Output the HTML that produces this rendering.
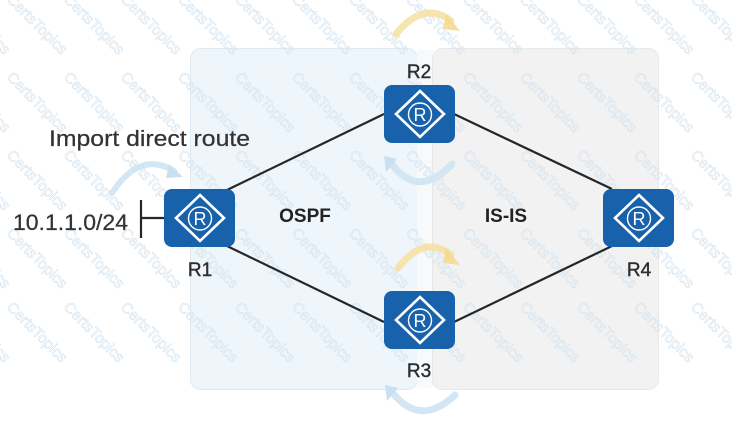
<!DOCTYPE html>
<html><head><meta charset="utf-8"><style>
html,body{margin:0;padding:0;background:#fff;width:732px;height:425px;overflow:hidden;}
svg{display:block;overflow:hidden;}
text{font-family:"Liberation Sans",sans-serif;}
</style></head><body>
<svg width="732" height="425" viewBox="0 0 732 425" xmlns="http://www.w3.org/2000/svg">
<defs>
<clipPath id="cp"><rect x="0" y="0" width="732" height="425"/></clipPath>
<g id="router">
<rect x="0" y="0" width="71" height="58" rx="8" fill="#1862ab"/>
<polygon points="36,6 60,29 36,52 12,29" fill="none" stroke="#fff" stroke-width="2.6"/>
<circle cx="36" cy="29.5" r="11.5" fill="none" stroke="#fff" stroke-width="1.4"/>
<text x="36" y="36" font-size="18" fill="#fff" text-anchor="middle">R</text>
</g>
<g id="wrow" font-size="15" fill="none" stroke="#d6e4ef" stroke-width="0.6">
<text transform="matrix(0.7071 0.7071 -0.7071 0.7071 -51 8)">CertsTopics</text>
<text transform="matrix(0.7071 0.7071 -0.7071 0.7071 6 8)">CertsTopics</text>
<text transform="matrix(0.7071 0.7071 -0.7071 0.7071 63 8)">CertsTopics</text>
<text transform="matrix(0.7071 0.7071 -0.7071 0.7071 120 8)">CertsTopics</text>
<text transform="matrix(0.7071 0.7071 -0.7071 0.7071 177 8)">CertsTopics</text>
<text transform="matrix(0.7071 0.7071 -0.7071 0.7071 234 8)">CertsTopics</text>
<text transform="matrix(0.7071 0.7071 -0.7071 0.7071 291 8)">CertsTopics</text>
<text transform="matrix(0.7071 0.7071 -0.7071 0.7071 348 8)">CertsTopics</text>
<text transform="matrix(0.7071 0.7071 -0.7071 0.7071 405 8)">CertsTopics</text>
<text transform="matrix(0.7071 0.7071 -0.7071 0.7071 462 8)">CertsTopics</text>
<text transform="matrix(0.7071 0.7071 -0.7071 0.7071 519 8)">CertsTopics</text>
<text transform="matrix(0.7071 0.7071 -0.7071 0.7071 576 8)">CertsTopics</text>
<text transform="matrix(0.7071 0.7071 -0.7071 0.7071 633 8)">CertsTopics</text>
<text transform="matrix(0.7071 0.7071 -0.7071 0.7071 690 8)">CertsTopics</text>
</g>
</defs>

<g clip-path="url(#cp)">
<!-- regions -->
<rect x="190.5" y="48.5" width="227" height="341" rx="10" fill="#eef5fb" stroke="#dfeaf3"/>
<rect x="417" y="50" width="16" height="338" fill="#f8f9fa"/>
<rect x="432.5" y="48.5" width="226" height="341" rx="10" fill="#f2f2f2" stroke="#e8e8e8"/>

<!-- watermark -->
<use href="#wrow" transform="translate(0,-8)"/>
<use href="#wrow" transform="translate(0,70)"/>
<use href="#wrow" transform="translate(0,148)"/>
<use href="#wrow" transform="translate(0,226)"/>
<use href="#wrow" transform="translate(0,300)"/>

<!-- links -->
<g stroke="#262626" stroke-width="2.2" fill="none">
<line x1="227" y1="190" x2="384" y2="114"/>
<line x1="454" y1="114" x2="612" y2="189"/>
<line x1="227" y1="246" x2="384" y2="322"/>
<line x1="454" y1="322" x2="612" y2="246"/>
<line x1="141" y1="200" x2="141" y2="238"/>
<line x1="141" y1="218" x2="165" y2="218"/>
</g>

<!-- arcs -->
<g fill="none" stroke-width="7" stroke-linecap="round">
<path d="M396,34 Q424,0 451,21" stroke="#f7dfa0" opacity="0.85"/>
<path d="M398,268 Q424,234 451,255" stroke="#f7dfa0" opacity="0.85"/>
<path d="M391,163 Q418,200 452,164" stroke="#d3e6f4"/>
<path d="M392,392 Q420,428 455,395" stroke="#d3e6f4"/>
<path d="M112,193 Q140,150 174,171" stroke="#d3e6f4" stroke-width="6"/>
</g>
<polygon points="446,14 460,31 443,29" fill="#f5d98e" opacity="0.9"/>
<polygon points="446,248 460,265 443,263" fill="#f5d98e" opacity="0.9"/>
<polygon points="384,156 397,159 386,172" fill="#c9e0f1"/>
<polygon points="385,385 398,388 387,401" fill="#c9e0f1"/>
<polygon points="169,164 183,177 166,178" fill="#c9e0f1"/>

<!-- routers -->
<use href="#router" x="164" y="189"/>
<use href="#router" x="384" y="85"/>
<use href="#router" x="384" y="291"/>
<use href="#router" x="603" y="189"/>

<!-- labels -->
<g fill="#2e2e2e" stroke="#2e2e2e" stroke-width="0.4">
<text x="419" y="78" font-size="19" text-anchor="middle">R2</text>
<text x="200" y="276" font-size="19" text-anchor="middle">R1</text>
<text x="419" y="377" font-size="19" text-anchor="middle">R3</text>
<text x="639" y="276" font-size="19" text-anchor="middle">R4</text>
</g>
<text x="49" y="146" font-size="22" fill="#333" stroke="#333" stroke-width="0.25" textLength="201" lengthAdjust="spacingAndGlyphs">Import direct route</text>
<text x="13" y="230" font-size="22" fill="#333" stroke="#333" stroke-width="0.25" textLength="115" lengthAdjust="spacingAndGlyphs">10.1.1.0/24</text>
<text x="305" y="222" font-size="19" font-weight="bold" fill="#222" text-anchor="middle">OSPF</text>
<text x="506" y="222" font-size="19" font-weight="bold" fill="#222" text-anchor="middle">IS-IS</text>
</g>
</svg>
</body></html>
